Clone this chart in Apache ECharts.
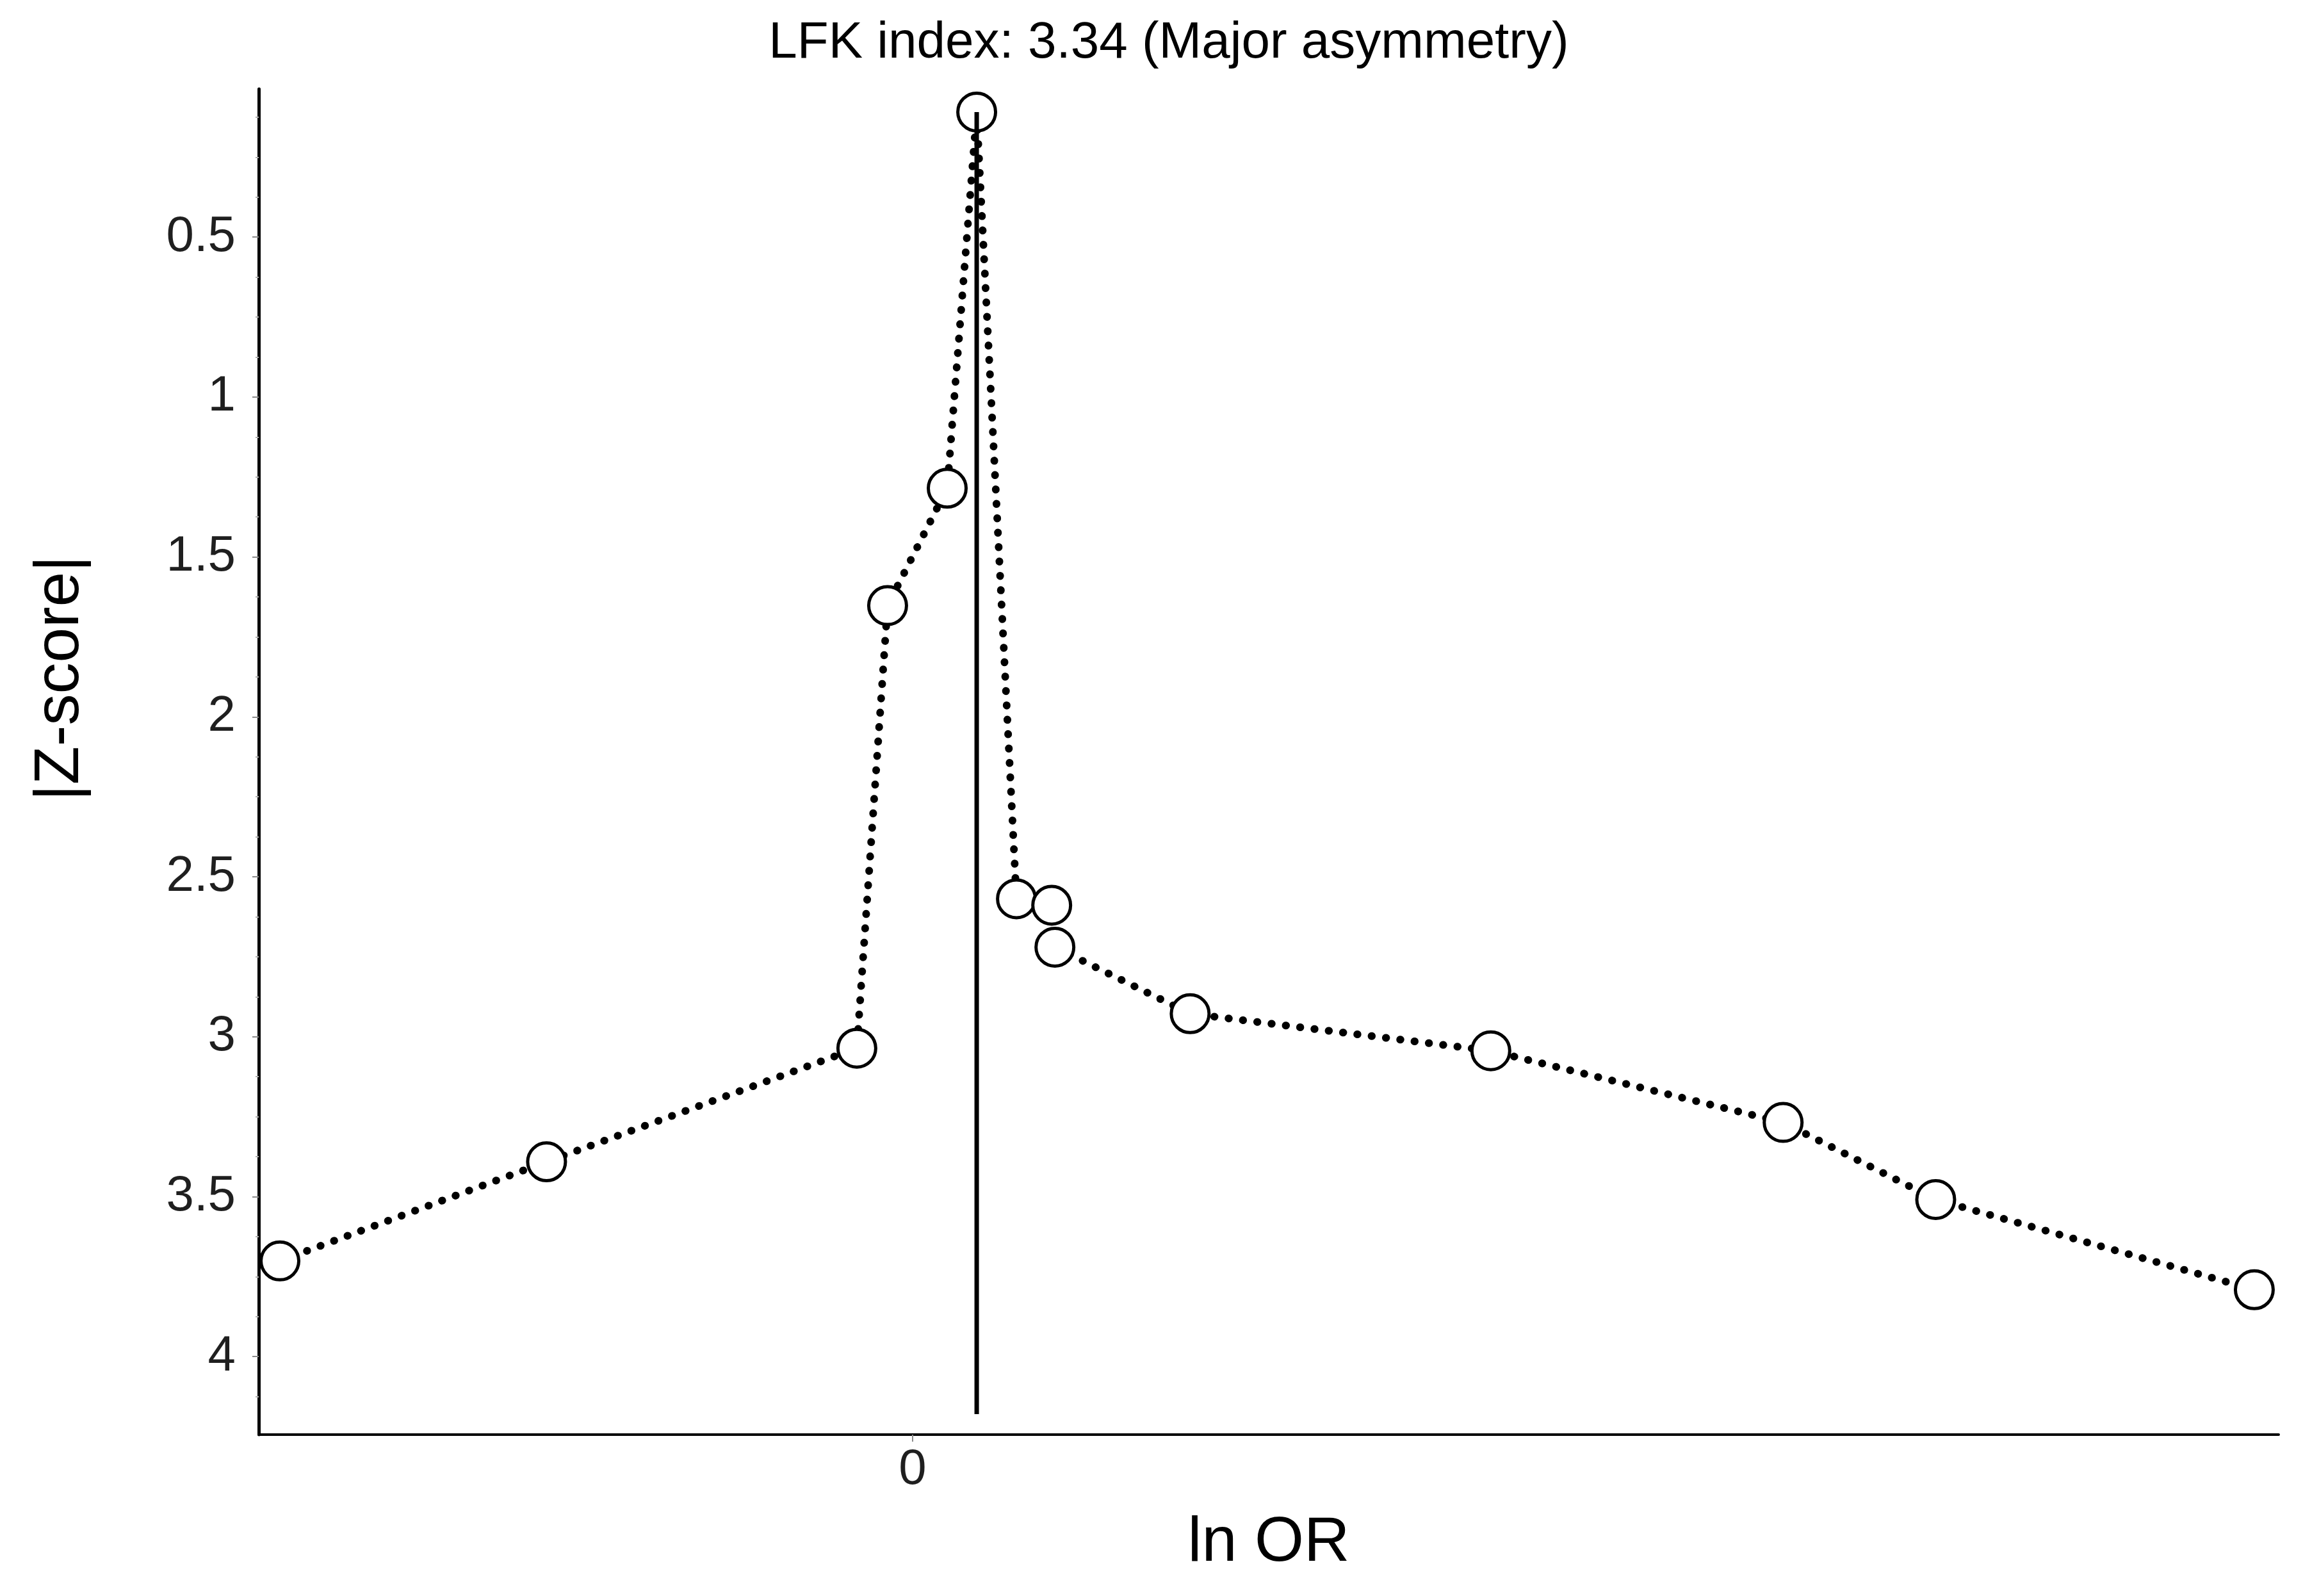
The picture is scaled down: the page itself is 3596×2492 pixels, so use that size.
<!DOCTYPE html>
<html>
<head>
<meta charset="utf-8">
<script src="https://cdn.jsdelivr.net/npm/echarts@6/dist/echarts.min.js"></script>
<style>
  html, body { margin: 0; padding: 0; background: #fff; }
  #doi-plot { width: 3596px; height: 2492px; }
</style>
</head>
<body>
<div id="doi-plot"></div>
<script>
// study points, in order of effect size
const lnOR = [-1.974, -1.142, -0.174, -0.078, 0.108, 0.2, 0.324, 0.434, 0.444, 0.866, 1.804, 2.716, 3.192, 4.186];
const zScore = [3.701, 3.391, 3.036, 1.652, 1.285, 0.109, 2.569, 2.589, 2.720, 2.928, 3.044, 3.268, 3.509, 3.791];

// solid reference line under the most precise study
const refLineX = [0.2, 0.2];
const refLineZ = [0.109, 4.18];

const yTickValues = [0.5, 1, 1.5, 2, 2.5, 3, 3.5, 4];
const yMinorTickValues = [0.125, 0.25, 0.375, 0.625, 0.75, 0.875, 1.125, 1.25, 1.375, 1.625, 1.75, 1.875,
  2.125, 2.25, 2.375, 2.625, 2.75, 2.875, 3.125, 3.25, 3.375, 3.625, 3.75, 3.875, 4.125];
const xTickValues = [0];

const titleText = 'LFK index: 3.34 (Major asymmetry)';
const xName = 'ln OR';
const yName = '|Z-score|';

let chart = echarts.init(document.getElementById('doi-plot'));
let points = lnOR.map((x, i) => [x, zScore[i]]);
let refLine = refLineX.map((x, i) => [x, refLineZ[i]]);
let fontFamily = '"Liberation Sans", Arial, sans-serif';

let chartOption = {
  animation: false,
  backgroundColor: '#fff',
  grid: {
    left: 404,
    right: 38,
    top: 139,
    bottom: 252
  },
  graphic: [
    {
      type: 'text',
      x: 1825,
      y: 68,
      style: {
        text: titleText,
        fontFamily: fontFamily,
        fontSize: 80,
        fill: '#000',
        align: 'center',
        verticalAlign: 'middle'
      }
    },
    {
      type: 'text',
      x: 1981,
      y: 2410,
      style: {
        text: xName,
        fontFamily: fontFamily,
        fontSize: 99,
        fill: '#000',
        align: 'center',
        verticalAlign: 'middle'
      }
    },
    {
      type: 'text',
      x: 95,
      y: 1059,
      rotation: Math.PI / 2,
      style: {
        text: yName,
        fontFamily: fontFamily,
        fontSize: 98,
        fill: '#000',
        align: 'center',
        verticalAlign: 'middle'
      }
    }
  ],
  xAxis: {
    type: 'value',
    min: -2.04,
    max: 4.262,
    splitLine: { show: false },
    axisLine: { onZero: false, lineStyle: { color: '#000', width: 4 } },
    axisTick: {
      customValues: xTickValues,
      length: 11,
      lineStyle: { color: '#8c8c8c', width: 2 }
    },
    axisLabel: {
      customValues: xTickValues,
      fontFamily: fontFamily,
      fontSize: 78,
      color: '#1f1f1f',
      margin: 16
    }
  },
  yAxis: [
    {
      type: 'value',
      inverse: true,
      min: 0.037,
      max: 4.244,
      splitLine: { show: false },
      axisLine: { show: true, onZero: false, lineStyle: { color: '#000', width: 5 } },
      axisTick: {
        customValues: yTickValues,
        length: 10,
        lineStyle: { color: '#8c8c8c', width: 2 }
      },
      axisLabel: {
        customValues: yTickValues,
        fontFamily: fontFamily,
        fontSize: 78,
        color: '#1f1f1f',
        margin: 36
      }
    },
    {
      type: 'value',
      inverse: true,
      position: 'left',
      min: 0.037,
      max: 4.244,
      splitLine: { show: false },
      axisLine: { show: false, onZero: false },
      axisLabel: { show: false },
      axisTick: {
        customValues: yMinorTickValues,
        length: 5,
        lineStyle: { color: '#b0b0b0', width: 2 }
      }
    }
  ],
  series: [
    {
      type: 'line',
      data: points,
      showSymbol: false,
      symbol: 'none',
      lineStyle: { color: '#000', width: 12, type: [0.5, 22], cap: 'round' },
      z: 2
    },
    {
      type: 'scatter',
      data: points,
      symbol: 'circle',
      symbolSize: 59,
      itemStyle: { color: '#fff', borderColor: '#000', borderWidth: 5, opacity: 1 },
      z: 3
    },
    {
      type: 'line',
      data: refLine,
      symbol: 'none',
      lineStyle: { color: '#000', width: 7 },
      z: 4
    }
  ]
};
chart.setOption(chartOption);
</script>
</body>
</html>
